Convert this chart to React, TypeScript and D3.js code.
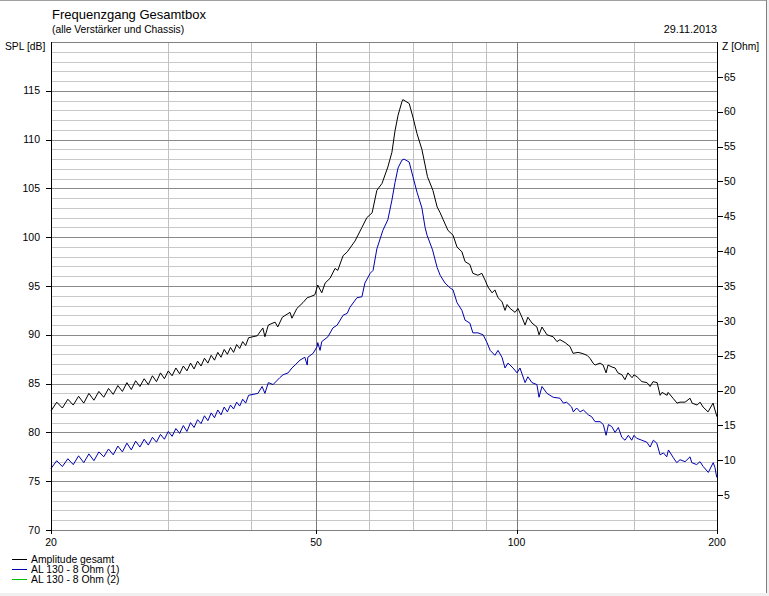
import * as d3 from "d3";

// zigzag region: the measurement ripples every ~0.4 Hz below 40 Hz
const lowFreqs = [
  20.0, 20.4, 20.8, 21.2, 21.6, 22.0, 22.4, 22.8, 23.2, 23.6,
  24.0, 24.4, 24.8, 25.2, 25.6, 26.0, 26.4, 26.8, 27.2, 27.6,
  28.0, 28.4, 28.8, 29.2, 29.6, 30.0, 30.4, 30.8, 31.2, 31.6,
  32.0, 32.4, 32.8, 33.2, 33.6, 34.0, 34.4, 34.8, 35.2, 35.6,
  36.0, 36.4, 36.8, 37.2, 37.6, 38.0, 38.4, 38.8, 39.2, 39.6,
];

const freqGesamt = [
  ...lowFreqs,
  40.8, 41.6, 41.9, 42.4, 43.4, 43.8, 44.5, 45.7, 46.0, 46.8,
  47.8, 48.5, 49.0, 49.8, 50.3, 51.0, 51.6, 52.5, 53.4, 53.9,
  54.9, 55.7, 57.2, 58.6, 59.6, 60.7, 61.7, 62.8, 64.1, 65.0,
  65.7, 66.4, 67.3, 67.5, 69.0, 69.9, 70.9, 72.1, 73.5, 74.9,
  76.0, 76.8, 77.6, 78.9, 80.3, 81.4, 82.8, 83.7, 85.1, 86.0,
  87.5, 88.7, 89.7, 90.6, 91.9, 92.8, 93.8, 95.1, 96.1, 96.8,
  97.8, 99.5, 100.5, 101.9, 103.0, 104.0, 105.5, 107.3, 108.1, 109.2,
  111.1, 113.5, 115.0, 116.2, 118.3, 120.3, 121.6, 123.7, 125.4, 127.6,
  128.9, 130.3, 131.2, 133.5, 134.9, 136.3, 137.2, 139.1, 140.6, 142.0,
  144.0, 145.5, 147.0, 149.1, 150.1, 151.7, 154.3, 157.0, 158.7, 160.3,
  162.6, 164.3, 165.4, 168.3, 168.9, 171.8, 174.2, 176.0, 179.1, 182.2,
  183.5, 186.7, 188.6, 190.6, 193.9, 197.3, 198.6, 200.0,
];

const splGesamt = [
  82.2, 83.1, 82.5, 83.4, 82.8, 83.7, 83.0, 84.0, 83.3, 84.2,
  83.6, 84.5, 83.9, 84.8, 84.2, 85.1, 84.4, 85.3, 84.7, 85.5,
  84.9, 85.8, 85.2, 86.1, 85.5, 86.3, 85.8, 86.6, 86.0, 86.8,
  86.3, 87.1, 86.5, 87.3, 86.8, 87.6, 87.1, 87.9, 87.4, 88.2,
  87.7, 88.5, 88.0, 88.7, 88.2, 89.0, 88.6, 89.3, 88.9, 89.7,
  89.9, 90.7, 89.8, 91.0, 91.3, 90.8, 91.8, 92.3, 91.7, 92.7,
  93.3, 93.8, 93.9, 94.1, 95.1, 94.3, 95.3, 95.8, 96.8, 96.6,
  98.1, 98.5, 99.6, 101.0, 102.0, 102.5, 104.8, 105.5, 107.2, 108.7,
  110.9, 112.5, 113.9, 114.1, 113.7, 112.3, 110.6, 109.0, 106.2, 104.8,
  103.1, 102.5, 101.8, 100.7, 100.2, 99.0, 98.5, 97.5, 97.2, 96.3,
  96.1, 96.3, 95.6, 94.9, 94.3, 94.6, 93.8, 93.4, 92.5, 93.1,
  92.7, 92.3, 92.7, 91.8, 91.0, 91.8, 91.2, 90.8, 90.0, 90.8,
  90.0, 89.8, 89.3, 89.5, 89.2, 88.8, 88.1, 88.2, 88.1, 87.9,
  87.6, 87.1, 86.9, 87.1, 86.9, 86.1, 86.9, 86.7, 86.6, 86.1,
  85.9, 85.4, 86.1, 85.6, 85.9, 85.7, 85.2, 85.1, 84.7, 85.2,
  85.1, 83.8, 84.1, 83.8, 84.1, 83.5, 83.0, 83.1, 83.1, 83.5,
  83.0, 82.8, 83.1, 82.6, 82.1, 83.0, 82.3, 81.6,
];

const freqChassis = [
  ...lowFreqs,
  40.9, 41.5, 41.9, 42.4, 43.1, 44.1, 44.6, 45.4, 46.0, 46.5,
  47.3, 48.1, 48.5, 48.6, 49.5, 50.2, 50.3, 50.7, 51.0, 52.1,
  53.0, 53.8, 54.9, 55.7, 56.2, 57.6, 58.6, 59.2, 60.3, 60.9,
  61.7, 63.0, 64.1, 65.0, 65.7, 66.4, 67.3, 67.8, 69.0, 69.9,
  70.9, 72.1, 72.9, 73.4, 74.8, 76.0, 76.8, 78.1, 79.5, 80.3,
  81.4, 82.8, 83.7, 85.1, 86.0, 87.5, 89.1, 90.3, 91.3, 92.8,
  93.8, 95.1, 96.1, 97.1, 98.8, 100.2, 101.2, 103.0, 104.0, 105.5,
  107.3, 108.1, 109.2, 111.1, 113.5, 116.2, 117.6, 118.9, 121.0, 121.7,
  123.1, 124.6, 126.0, 128.2, 129.7, 131.2, 133.5, 135.0, 136.3, 137.4,
  139.0, 140.6, 142.2, 143.9, 145.5, 147.2, 148.9, 150.1, 151.5, 154.2,
  156.9, 158.7, 160.5, 162.4, 164.3, 166.2, 168.1, 169.1, 172.0, 174.0,
  176.0, 179.1, 182.2, 183.3, 186.4, 188.6, 190.7, 194.1, 197.4, 198.6,
  199.8,
];

const splChassis = [
  76.3, 77.1, 76.5, 77.3, 76.7, 77.6, 76.9, 77.8, 77.1, 78.0,
  77.5, 78.3, 77.7, 78.6, 78.0, 78.9, 78.2, 79.1, 78.5, 79.3,
  78.7, 79.5, 79.0, 79.8, 79.3, 80.1, 79.6, 80.4, 79.9, 80.7,
  80.1, 81.0, 80.5, 81.3, 80.9, 81.7, 81.2, 82.0, 81.5, 82.3,
  81.8, 82.6, 82.1, 82.8, 82.4, 83.1, 82.7, 83.4, 83.0, 83.8,
  84.0, 84.7, 84.0, 85.1, 84.9, 85.6, 85.9, 86.1, 86.6, 86.9,
  87.4, 87.7, 86.9, 87.7, 88.1, 88.8, 89.2, 88.4, 89.3, 89.8,
  90.7, 91.0, 92.0, 92.2, 92.8, 93.8, 93.9, 95.3, 96.3, 96.6,
  98.8, 100.7, 101.8, 103.8, 105.6, 107.1, 107.9, 108.0, 107.7, 106.2,
  104.6, 103.0, 101.0, 100.2, 98.7, 96.9, 96.1, 95.3, 94.8, 94.6,
  93.3, 92.5, 91.5, 91.2, 90.2, 90.2, 90.0, 89.2, 88.4, 87.9,
  88.4, 87.7, 86.6, 87.1, 86.6, 86.1, 86.6, 85.1, 85.7, 85.1,
  84.9, 83.6, 84.7, 84.0, 83.6, 83.5, 83.0, 83.1, 82.6, 82.1,
  82.5, 82.1, 82.3, 81.8, 81.6, 81.1, 81.1, 80.8, 79.7, 80.8,
  80.6, 80.0, 80.5, 79.5, 79.2, 79.7, 79.2, 79.7, 79.4, 79.2,
  79.0, 78.5, 79.2, 78.9, 77.7, 77.9, 77.5, 78.2, 77.4, 76.9,
  77.2, 77.0, 77.5, 76.9, 76.7, 77.0, 76.5, 75.9, 76.9, 76.4,
  75.4,
];

const splTicks = [70, 75, 80, 85, 90, 95, 100, 105, 110, 115];
const zTicks = [5, 10, 15, 20, 25, 30, 35, 40, 45, 50, 55, 60, 65];
const freqLabels = [20, 50, 100, 200];
const freqMinor = [30, 40, 60, 70, 80, 90, 150];
const freqMajor = [50, 100];

const legendItems = [
  { label: "Amplitude gesamt", color: "#000000" },
  { label: "AL 130 - 8 Ohm (1)", color: "#0000b0" },
  { label: "AL 130 - 8 Ohm (2)", color: "#00c000" },
];

const W = 769;
const H = 596;
const plot = { left: 51, right: 717, top: 42, bottom: 530 };
const font = "'Liberation Sans', Arial, sans-serif";

export default function App() {
  const x = d3.scaleLog().domain([20, 200]).range([plot.left, plot.right]);
  const y = d3.scaleLinear().domain([70, 120]).range([plot.bottom, plot.top]);
  const z = d3.scaleLinear().domain([0, 70]).range([plot.bottom, plot.top]);

  const px = (v: number) => Math.round(v) + 0.5;

  const line = d3
    .line<[number, number]>()
    .x((d) => x(d[0]))
    .y((d) => y(d[1]));

  const gesamt = freqGesamt.map((f, i) => [f, splGesamt[i]] as [number, number]);
  const chassis = freqChassis.map((f, i) => [f, splChassis[i]] as [number, number]);

  const dbMinor = d3.range(71, 120).filter((v) => v % 5 !== 0);
  const dbMajor = d3.range(75, 120, 5);

  return (
    <svg
      width={W}
      height={H}
      style={{ position: "absolute", left: 0, top: 0, fontFamily: font }}
    >
      <rect x={0} y={0} width={W} height={H} fill="#f0f0f0" />
      <rect x={0} y={1} width={766} height={592} fill="#ffffff" />
      <line x1={0} x2={767} y1={0.5} y2={0.5} stroke="#a0a0a0" />
      <line x1={766.5} x2={766.5} y1={0} y2={593} stroke="#808080" />

      <text x={52} y={18.5} fontSize={13} fill="#000">
        Frequenzgang Gesamtbox
      </text>
      <text x={52} y={33} fontSize={10.3} fill="#000">
        (alle Verstärker und Chassis)
      </text>
      <text x={plot.right} y={33} fontSize={10.8} textAnchor="end" fill="#000">
        29.11.2013
      </text>
      <text x={5} y={50} fontSize={10.3} fill="#000">
        SPL [dB]
      </text>
      <text x={722} y={50} fontSize={10.3} fill="#000">
        Z [Ohm]
      </text>

      <g shapeRendering="crispEdges">
        {dbMinor.map((v) => (
          <line key={"hm" + v} x1={plot.left} x2={plot.right} y1={px(y(v))} y2={px(y(v))} stroke="#c8c8c8" />
        ))}
        {freqMinor.map((f) => (
          <line key={"vm" + f} x1={px(x(f))} x2={px(x(f))} y1={plot.top} y2={plot.bottom} stroke="#c0c0c0" />
        ))}
        {dbMajor.map((v) => (
          <line key={"hM" + v} x1={plot.left} x2={plot.right} y1={px(y(v))} y2={px(y(v))} stroke="#8a8a8a" />
        ))}
        {freqMajor.map((f) => (
          <line key={"vM" + f} x1={px(x(f))} x2={px(x(f))} y1={plot.top} y2={plot.bottom} stroke="#7a7a7a" />
        ))}
        <rect
          x={plot.left + 0.5}
          y={plot.top + 0.5}
          width={plot.right - plot.left}
          height={plot.bottom - plot.top}
          fill="none"
          stroke="#808080"
        />
      </g>

      <path d={line(gesamt) ?? ""} fill="none" stroke="#000000" strokeWidth={1} />
      <path d={line(chassis) ?? ""} fill="none" stroke="#0000b0" strokeWidth={1} />

      <g shapeRendering="crispEdges">
        {splTicks.map((v) => (
          <line key={"lt" + v} x1={46} x2={plot.left + 1} y1={px(y(v))} y2={px(y(v))} stroke="#000" />
        ))}
        {zTicks.map((v) => (
          <line key={"rt" + v} x1={plot.right} x2={723} y1={px(z(v))} y2={px(z(v))} stroke="#000" />
        ))}
        {freqLabels.map((f) => (
          <line key={"bt" + f} x1={px(x(f))} x2={px(x(f))} y1={plot.bottom} y2={plot.bottom + 4} stroke="#000" />
        ))}
        <line x1={px(plot.left)} x2={px(plot.left)} y1={plot.top} y2={plot.bottom + 1} stroke="#000" />
        <line x1={px(plot.right)} x2={px(plot.right)} y1={plot.top} y2={plot.bottom + 1} stroke="#000" />
      </g>

      {splTicks.map((v) => (
        <text key={"ll" + v} x={40} y={y(v)} dy="0.35em" fontSize={10.5} textAnchor="end" fill="#000">
          {v}
        </text>
      ))}
      {zTicks.map((v) => (
        <text key={"rl" + v} x={724} y={z(v)} dy="0.35em" fontSize={10.5} fill="#000">
          {v}
        </text>
      ))}
      {freqLabels.map((f) => (
        <text key={"fl" + f} x={x(f)} y={546} fontSize={10.5} textAnchor="middle" fill="#000">
          {f}
        </text>
      ))}

      {legendItems.map((item, i) => (
        <g key={item.label} transform={`translate(0, ${559 + i * 10})`}>
          <line x1={12} x2={27} y1={0.5} y2={0.5} stroke={item.color} shapeRendering="crispEdges" />
          <text x={31} y={4.2} fontSize={10.4} fill="#000">
            {item.label}
          </text>
        </g>
      ))}
    </svg>
  );
}
